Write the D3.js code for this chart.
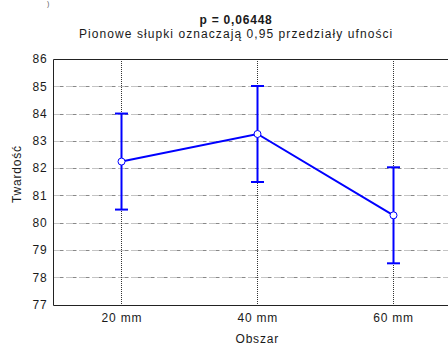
<!DOCTYPE html>
<html>
<head>
<meta charset="utf-8">
<script src="https://cdn.jsdelivr.net/npm/d3@7"></script>
<style>
  html, body { margin: 0; padding: 0; background: #fff; }
  svg { display: block; font-family: "Liberation Sans", Arial, sans-serif; }
  svg text { letter-spacing: 0.8px; }
</style>
</head>
<body>
<svg id="chart" width="448" height="347"></svg>
<script>
// Hardness means with 0.95 confidence intervals per area
const categories = ["20 mm", "40 mm", "60 mm"];
const means = [82.24, 83.25, 80.27];
const lower = [80.48, 81.49, 78.51];
const upper = [84.00, 85.01, 82.03];
const yTicks = [77, 78, 79, 80, 81, 82, 83, 84, 85, 86];

const titleText = "p = 0,06448";
const subtitleText = "Pionowe słupki oznaczają 0,95 przedziały ufności";
const xTitle = "Obszar";
const yTitle = "Twardość";

const svg = d3.select("#chart");
const plot = { left: 53.5, right: 461, top: 59, bottom: 304.5 };

const x = d3.scalePoint().domain(categories).range([plot.left, plot.right]).padding(0.5);
const y = d3.scaleLinear().domain([77, 86]).range([plot.bottom, plot.top]);

const blue = "#0000ff";
const textColor = "#1a1a1a";

// Small bracket glyph left over above the figure
svg.append("text").attr("x", 47).attr("y", 6).attr("font-size", 7).attr("fill", "#555").text(")");

// Titles
svg.append("text").attr("x", 236).attr("y", 24).attr("text-anchor", "middle")
  .attr("font-size", 12).attr("font-weight", "bold").attr("fill", textColor).text(titleText);
svg.append("text").attr("x", 236).attr("y", 38).attr("text-anchor", "middle")
  .attr("font-size", 12).attr("fill", textColor).attr("textLength", 314).text(subtitleText);

// Horizontal gridlines
svg.append("g").selectAll("line").data(yTicks.filter(v => v > 77 && v < 86)).join("line")
  .attr("x1", plot.left).attr("x2", plot.right)
  .attr("y1", d => Math.round(y(d)) + 0.5).attr("y2", d => Math.round(y(d)) + 0.5)
  .attr("stroke", "#888").attr("stroke-width", 1).attr("stroke-dasharray", "1,1,1,1,1,1,4,3");

// Vertical gridlines
svg.append("g").selectAll("line").data(categories).join("line")
  .attr("x1", d => Math.round(x(d)) + 0.5).attr("x2", d => Math.round(x(d)) + 0.5)
  .attr("y1", plot.top).attr("y2", plot.bottom)
  .attr("stroke", "#333").attr("stroke-width", 1).attr("stroke-dasharray", "1,1");

// Frame
svg.append("path")
  .attr("d", `M${plot.right},${Math.round(plot.top) + 0.5}H${plot.left}V${Math.round(plot.bottom) + 0.5}H${plot.right}`)
  .attr("fill", "none").attr("stroke", "#222").attr("stroke-width", 1);

// Y axis labels
const yAxis = d3.axisLeft(y).tickValues(yTicks).tickSize(0).tickPadding(6).tickFormat(d3.format("d"));
const gy = svg.append("g").attr("transform", `translate(${plot.left},0)`).call(yAxis);
gy.select(".domain").remove();
gy.selectAll("text").attr("font-size", 12).attr("font-family", "Liberation Sans, Arial, sans-serif").attr("fill", textColor);

// X axis labels
const xAxis = d3.axisBottom(x).tickSize(0).tickPadding(9);
const gx = svg.append("g").attr("transform", `translate(0,${plot.bottom})`).call(xAxis);
gx.select(".domain").remove();
gx.selectAll("text").attr("font-size", 12).attr("font-family", "Liberation Sans, Arial, sans-serif").attr("fill", textColor);

// Axis titles
svg.append("text").attr("x", (plot.left + plot.right) / 2).attr("y", 343).attr("text-anchor", "middle")
  .attr("font-size", 12).attr("fill", textColor).text(xTitle);
svg.append("text").attr("transform", `translate(21,174) rotate(-90)`).attr("text-anchor", "middle")
  .attr("font-size", 12).attr("fill", textColor).text(yTitle);

// Error bars
const eb = svg.append("g");
categories.forEach((c, i) => {
  const cx = Math.round(x(c)) + 0.5;
  eb.append("line").attr("x1", cx).attr("x2", cx).attr("y1", y(lower[i])).attr("y2", y(upper[i]))
    .attr("stroke", blue).attr("stroke-width", 2);
  [lower[i], upper[i]].forEach(v => {
    eb.append("line").attr("x1", cx - 6.5).attr("x2", cx + 6.5).attr("y1", y(v)).attr("y2", y(v))
      .attr("stroke", blue).attr("stroke-width", 2);
  });
});

// Mean line and markers
const line = d3.line().x((d, i) => Math.round(x(categories[i])) + 0.5).y(d => y(d));
svg.append("path").datum(means).attr("d", line).attr("fill", "none").attr("stroke", blue).attr("stroke-width", 2);
svg.append("g").selectAll("circle").data(means).join("circle")
  .attr("cx", (d, i) => Math.round(x(categories[i])) + 0.5).attr("cy", d => y(d)).attr("r", 3.5)
  .attr("fill", "#fff").attr("stroke", blue).attr("stroke-width", 1);
</script>
</body>
</html>
